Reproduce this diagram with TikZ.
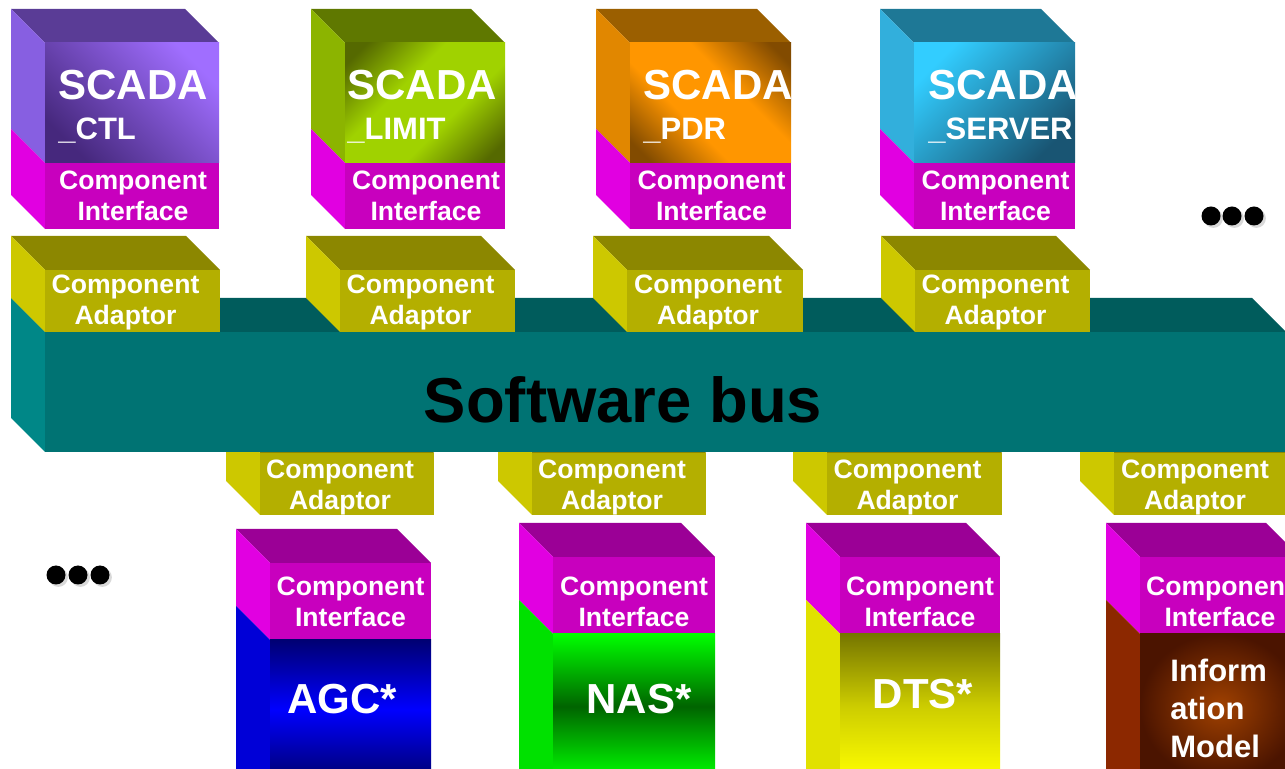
\documentclass[tikz,border=0pt]{standalone}
\usepackage{fontspec}
\setmainfont{Liberation Sans}
\usetikzlibrary{shadows}

\definecolor{BusFront}{RGB}{0,115,115}
\definecolor{BusSide}{RGB}{0,135,135}
\definecolor{BusTop}{RGB}{0,92,92}
\definecolor{AdaptorFront}{RGB}{180,175,0}
\definecolor{AdaptorSide}{RGB}{205,200,0}
\definecolor{AdaptorTop}{RGB}{140,135,0}
\definecolor{InterfaceFront}{RGB}{200,0,190}
\definecolor{InterfaceSide}{RGB}{225,0,225}
\definecolor{InterfaceTop}{RGB}{155,0,150}
\definecolor{CtlTop}{RGB}{90,60,150}
\definecolor{CtlSide}{RGB}{135,95,225}
\definecolor{CtlDark}{RGB}{70,40,125}
\definecolor{CtlLight}{RGB}{160,110,255}
\definecolor{LimitTop}{RGB}{95,120,0}
\definecolor{LimitSide}{RGB}{140,180,0}
\definecolor{LimitDark}{RGB}{85,105,0}
\definecolor{LimitLight}{RGB}{160,210,0}
\definecolor{PdrTop}{RGB}{155,95,0}
\definecolor{PdrSide}{RGB}{225,135,0}
\definecolor{PdrDark}{RGB}{130,75,0}
\definecolor{PdrOrange}{RGB}{255,150,0}
\definecolor{ServerTop}{RGB}{30,120,150}
\definecolor{ServerSide}{RGB}{50,175,220}
\definecolor{ServerLight}{RGB}{50,205,255}
\definecolor{ServerDark}{RGB}{25,85,115}
\definecolor{AgcSide}{RGB}{0,0,215}
\definecolor{AgcDark}{RGB}{0,0,115}
\definecolor{AgcBlue}{RGB}{0,0,255}
\definecolor{NasSide}{RGB}{0,225,0}
\definecolor{NasLight}{RGB}{0,255,0}
\definecolor{NasDark}{RGB}{0,100,0}
\definecolor{DtsSide}{RGB}{225,225,0}
\definecolor{DtsDark}{RGB}{118,118,0}
\definecolor{DtsMid}{RGB}{205,205,0}
\definecolor{DtsLight}{RGB}{255,255,0}
\definecolor{InfoSide}{RGB}{140,40,0}
\definecolor{InfoLight}{RGB}{160,65,0}
\definecolor{InfoDark}{RGB}{75,20,0}

\pgfdeclareverticalshading{limitshade}{100bp}{color(0bp)=(LimitDark); color(20bp)=(LimitDark); color(40bp)=(LimitLight); color(60bp)=(LimitLight); color(80bp)=(LimitDark); color(100bp)=(LimitDark)}
\pgfdeclareverticalshading{pdrshade}{100bp}{color(0bp)=(PdrDark); color(20bp)=(PdrDark); color(40bp)=(PdrOrange); color(60bp)=(PdrOrange); color(80bp)=(PdrDark); color(100bp)=(PdrDark)}

\tikzstyle{boxtext} = [text=white, font=\bfseries\fontsize{13.3}{15.5}\selectfont, align=center, inner sep=0pt]
\tikzstyle{nametext} = [text=white, font=\bfseries\fontsize{21}{25}\selectfont, inner sep=0pt, anchor=base west]
\tikzstyle{subtext} = [text=white, font=\bfseries\fontsize{15.5}{19}\selectfont, inner sep=0pt, anchor=base west]
\tikzstyle{bigtext} = [text=white, font=\bfseries\fontsize{21}{25}\selectfont, inner sep=0pt, anchor=base]
\tikzstyle{infotext} = [text=white, font=\bfseries\fontsize{15.5}{19}\selectfont, align=left, inner sep=0pt, anchor=west]
\tikzstyle{bustext} = [text=black, font=\bfseries\fontsize{31.7}{38}\selectfont, inner sep=0pt, anchor=base]
\tikzstyle{dot} = [circle, fill=black, minimum size=9.5pt, inner sep=0pt, drop shadow={shadow xshift=1.2pt, shadow yshift=-1.2pt, opacity=0.3}]

\begin{document}
\begin{tikzpicture}[x=0.5pt, y=-0.5pt]
            \useasboundingbox (0,0) rectangle (1285,769);
            \clip (0,0) rectangle (1285,769);

            % Adaptors below the bus
            \foreach \xa/\xb [count=\i] in {226/434, 498/706, 793/1002, 1080/1290}{
              \fill[AdaptorTop] (\xa,419) -- (\xb-34,419) -- (\xb,453) -- (\xa+34,453) -- cycle;
              \fill[AdaptorSide] (\xa,419) -- (\xa+34,453) -- (\xa+34,515) -- (\xa,481) -- cycle;
              \fill[AdaptorFront] (\xa+34,453) rectangle (\xb,515);
              \node[boxtext] (lowadaptor\i) at ({(\xa+34+\xb)/2-7},487) {Component\\Adaptor};
            }

            % Software bus
            \fill[BusTop] (11,298) -- (1252,298) -- (1286,332) -- (45,332) -- cycle;
            \fill[BusSide] (11,298) -- (45,332) -- (45,452) -- (11,418) -- cycle;
            \fill[BusFront] (45,332) rectangle (1290,452);
            \node[bustext] (bus) at (623,423) {Software bus};

            % Adaptors on the bus
            \foreach \xa/\xb [count=\i] in {11/220, 306/515, 593/803, 881/1090}{
              \fill[AdaptorTop] (\xa,236) -- (\xb-34,236) -- (\xb,270) -- (\xa+34,270) -- cycle;
              \fill[AdaptorSide] (\xa,236) -- (\xa+34,270) -- (\xa+34,332) -- (\xa,298) -- cycle;
              \fill[AdaptorFront] (\xa+34,270) rectangle (\xb,332);
              \node[boxtext] (topadaptor\i) at ({(\xa+34+\xb)/2-7},302) {Component\\Adaptor};
            }

            % SCADA components
            \foreach \xa/\xb/\col [count=\i] in {11/219/Ctl, 311/505/Limit, 596/791/Pdr, 880/1075/Server}{
              \fill[fill=\col Top] (\xa,9) -- (\xb-34,9) -- (\xb,43) -- (\xa+34,43) -- cycle;
              \fill[fill=\col Side] (\xa,9) -- (\xa+34,43) -- (\xa+34,163) -- (\xa,129) -- cycle;
              \fill[InterfaceSide] (\xa,129) -- (\xa+34,163) -- (\xa+34,229) -- (\xa,195) -- cycle;
              \fill[InterfaceFront] (\xa+34,163) rectangle (\xb,229);
              \node[boxtext] (topiface\i) at ({(\xa+34+\xb)/2+1},196) {Component\\Interface};
            }
            \shade[bottom color=CtlDark, top color=CtlLight, shading angle=-45] (45,43) rectangle (219,163);
            \shade[shading=limitshade, shading angle=45] (345,43) rectangle (505,163);
            \shade[shading=pdrshade, shading angle=-45] (630,43) rectangle (791,163);
            \shade[bottom color=ServerDark, top color=ServerLight, shading angle=45] (914,43) rectangle (1075,163);
            \foreach \xa/\xb/\tx/\sub [count=\i] in {11/219/58/CTL, 311/505/347/LIMIT, 596/791/643/PDR, 880/1075/928/SERVER}{
              \begin{scope}
                \clip (\xa+34,43) rectangle (\xb,163);
                \node[nametext] (scada\i) at (\tx,100) {SCADA};
                \node[subtext] (scadasub\i) at (\tx,140) {\_\sub};
              \end{scope}
            }

            % Application components
            \foreach \xa/\xb/\yt/\col [count=\i] in {236/431/529/Agc, 519/715/523/Nas, 806/1000/523/Dts, 1106/1300/523/Info}{
              \fill[InterfaceTop] (\xa,\yt) -- (\xb-34,\yt) -- (\xb,\yt+34) -- (\xa+34,\yt+34) -- cycle;
              \fill[InterfaceSide] (\xa,\yt) -- (\xa+34,\yt+34) -- (\xa+34,\yt+111) -- (\xa,\yt+77) -- cycle;
              \fill[fill=\col Side] (\xa,\yt+77) -- (\xa+34,\yt+111) -- (\xa+34,790) -- (\xa,790) -- cycle;
              \fill[InterfaceFront] (\xa+34,\yt+34) rectangle (\xb,\yt+111);
              \node[boxtext] (lowiface\i) at ({(\xa+34+\xb)/2},602) {Component\\Interface};
            }
            \shade[top color=AgcDark, bottom color=AgcDark, middle color=AgcBlue] (270,640) rectangle (431,779);
            \shade[top color=NasLight, bottom color=NasLight, middle color=NasDark] (553,634) rectangle (715,779);
            \shade[top color=DtsDark, bottom color=DtsLight, middle color=DtsMid] (840,634) rectangle (1000,779);
            \shade[inner color=InfoLight, outer color=InfoDark] (1140,634) rectangle (1300,779);
            \node[bigtext] (agc) at (342,713) {AGC*};
            \node[bigtext] (nas) at (639,713) {NAS*};
            \node[bigtext] (dts) at (923,708) {DTS*};
            \node[infotext] (info) at (1170,708) {Inform\\ation\\Model};

            % More components
            \foreach \x [count=\i] in {1211,1232,1254}
              \node[dot] (moreright\i) at (\x,216) {};
            \foreach \x [count=\i] in {56,78,100}
              \node[dot] (moreleft\i) at (\x,575) {};
        \end{tikzpicture}
\end{document}
